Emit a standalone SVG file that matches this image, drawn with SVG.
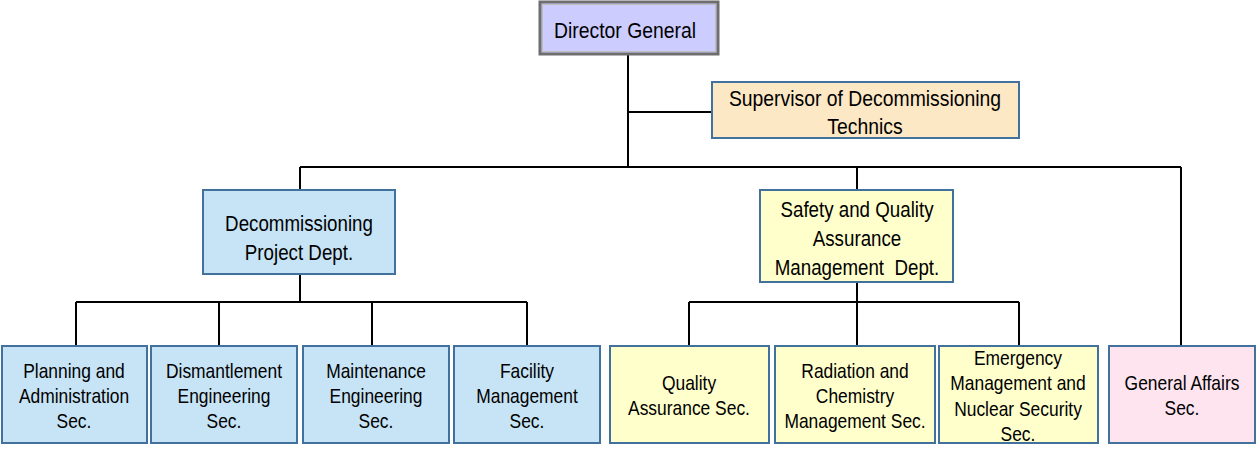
<svg xmlns="http://www.w3.org/2000/svg" width="1257" height="459" viewBox="0 0 1257 459">
<style>
text{font-family:"Liberation Sans",Arial,sans-serif;fill:#000;text-anchor:middle;white-space:pre}
.t1{font-size:22px}
.t2{font-size:21.3px}
.t3{font-size:19.8px}
.box{stroke:#41719c;stroke-width:2}
.blue{fill:#c7e4f6}
.yel{fill:#ffffcc}
.pink{fill:#fde4ee}
.wheat{fill:#fce8c4}
.conn{stroke:#000;stroke-width:2;fill:none}
</style>
<rect width="1257" height="459" fill="#fff"/>
<g id="connectors">
<path class="conn" d="M628 54V167M628 112H712M300 167H1181M300 167V190M857 167V190M1181 167V346"/>
<path class="conn" d="M300 274V302M76 302H527M76 302V346M219 302V346M372 302V346M527 302V346"/>
<path class="conn" d="M857 282V302M689 302H1019M689 302V346M857 302V346M1019 302V346"/>
</g>
<g id="director">
<rect x="540" y="2" width="178" height="52" fill="#ccccff" stroke="#6e6e6e" stroke-width="3"/>
<rect x="542.5" y="4.5" width="173" height="47" fill="none" stroke="#bdbdbd" stroke-width="1"/>
<text class="t1" transform="matrix(.88 0 0 1 625 0)"><tspan x="0" y="38">Director General</tspan></text>
</g>
<g id="supervisor">
<rect class="box wheat" x="712" y="82" width="307" height="56"/>
<text class="t1" transform="matrix(.88 0 0 1 865 0)"><tspan x="0" y="106">Supervisor of Decommissioning</tspan><tspan x="0" y="134">Technics</tspan></text>
</g>
<g id="decom-dept">
<rect class="box blue" x="203" y="190" width="192" height="84"/>
<text class="t2" transform="matrix(.88 0 0 1 299 0)"><tspan x="0" y="231">Decommissioning</tspan><tspan x="0" y="260">Project Dept.</tspan></text>
</g>
<g id="safety-dept">
<rect class="box yel" x="760" y="190" width="193" height="92"/>
<text class="t2" transform="matrix(.88 0 0 1 857 0)"><tspan x="0" y="217">Safety and Quality</tspan><tspan x="0" y="246">Assurance</tspan><tspan x="0" y="275">Management  Dept.</tspan></text>
</g>
<g id="planning">
<rect class="box blue" x="2" y="346" width="145" height="97"/>
<text class="t3" transform="matrix(.88 0 0 1 74 0)"><tspan x="0" y="378">Planning and</tspan><tspan x="0" y="403">Administration</tspan><tspan x="0" y="428">Sec.</tspan></text>
</g>
<g id="dismantlement">
<rect class="box blue" x="151" y="346" width="146" height="97"/>
<text class="t3" transform="matrix(.88 0 0 1 224 0)"><tspan x="0" y="378">Dismantlement</tspan><tspan x="0" y="403">Engineering</tspan><tspan x="0" y="428">Sec.</tspan></text>
</g>
<g id="maintenance">
<rect class="box blue" x="303" y="346" width="146" height="97"/>
<text class="t3" transform="matrix(.88 0 0 1 376 0)"><tspan x="0" y="378">Maintenance</tspan><tspan x="0" y="403">Engineering</tspan><tspan x="0" y="428">Sec.</tspan></text>
</g>
<g id="facility">
<rect class="box blue" x="454" y="346" width="146" height="97"/>
<text class="t3" transform="matrix(.88 0 0 1 527 0)"><tspan x="0" y="378">Facility</tspan><tspan x="0" y="403">Management</tspan><tspan x="0" y="428">Sec.</tspan></text>
</g>
<g id="quality">
<rect class="box yel" x="610" y="346" width="159" height="97"/>
<text class="t3" transform="matrix(.88 0 0 1 689 0)"><tspan x="0" y="390">Quality</tspan><tspan x="0" y="415">Assurance Sec.</tspan></text>
</g>
<g id="radiation">
<rect class="box yel" x="775" y="346" width="160" height="97"/>
<text class="t3" transform="matrix(.88 0 0 1 855 0)"><tspan x="0" y="378">Radiation and</tspan><tspan x="0" y="403">Chemistry</tspan><tspan x="0" y="428">Management Sec.</tspan></text>
</g>
<g id="emergency">
<rect class="box yel" x="939" y="346" width="159" height="97"/>
<text class="t3" transform="matrix(.88 0 0 1 1018 0)"><tspan x="0" y="365">Emergency</tspan><tspan x="0" y="390">Management and</tspan><tspan x="0" y="416">Nuclear Security</tspan><tspan x="0" y="441">Sec.</tspan></text>
</g>
<g id="general-affairs">
<rect class="box pink" x="1109" y="346" width="146" height="97"/>
<text class="t3" transform="matrix(.88 0 0 1 1182 0)"><tspan x="0" y="390">General Affairs</tspan><tspan x="0" y="415">Sec.</tspan></text>
</g>
</svg>
